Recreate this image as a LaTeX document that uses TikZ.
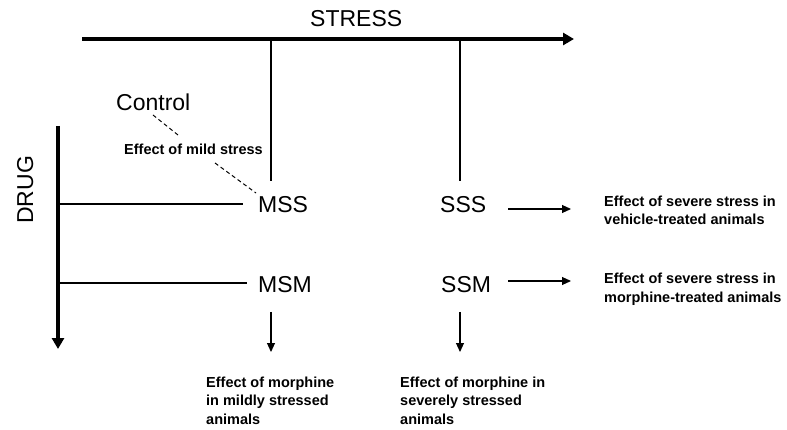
\documentclass[tikz,border=0pt]{standalone}
\usepackage{fontspec}
\setmainfont{Liberation Sans}
\usetikzlibrary{arrows.meta}
\begin{document}
\begin{tikzpicture}[x=1pt,y=-1pt,
  big/.style={font=\fontsize{23}{27}\selectfont, inner sep=0pt},
  note/.style={font=\bfseries\fontsize{14.5}{18.3}\selectfont, inner sep=0pt, align=left},
  axis/.style={line width=4pt, -{Triangle[length=11pt,width=12pt]}},
  thin/.style={line width=1.1pt},
  arr/.style={line width=1.1pt, -{Triangle[length=9pt,width=8pt]}},
  dashline/.style={line width=1pt, dash pattern=on 4pt off 3pt}]
\useasboundingbox (0,0) rectangle (787,430);
% axes
\coordinate (sa) at (82,39);
\coordinate (sb) at (574,39);
\coordinate (da) at (58,126);
\coordinate (db) at (58,349);
\draw[axis] (sa) -- (sb);
\draw[axis] (da) -- (db);
\node[big, anchor=base west] (stress) at (310,27) {STRESS};
\node[big, anchor=base west, rotate=90] (drug) at (33,224) {DRUG};
% group nodes
\node[big, anchor=base west] (mss) at (258,213) {MSS};
\node[big, anchor=base west] (sss) at (440,213) {SSS};
\node[big, anchor=base west] (msm) at (258,293) {MSM};
\node[big, anchor=base west] (ssm) at (441,293) {SSM};
\node[big, anchor=base west] (control) at (116,111) {Control};
% stress verticals
\coordinate (s1) at (271,39);
\coordinate (s1e) at (271,181);
\coordinate (s2) at (460,39);
\coordinate (s2e) at (460,181);
\draw[thin] (s1) -- (s1e);
\draw[thin] (s2) -- (s2e);
% drug horizontals
\coordinate (d1) at (58,204);
\coordinate (d1e) at (243,204);
\coordinate (d2) at (58,283);
\coordinate (d2e) at (247,283);
\draw[thin] (d1) -- (d1e);
\draw[thin] (d2) -- (d2e);
% mild stress dashed
\node[note, anchor=base west] (mild) at (124,155) {Effect of mild stress};
\coordinate (c1) at (153,115);
\coordinate (c2) at (178,135);
\coordinate (c3) at (215,163);
\coordinate (c4) at (256,193);
\draw[dashline] (c1) -- (c2);
\draw[dashline] (c3) -- (c4);
% right effects (anchor at baseline of last line)
\node[note, anchor=base west] (e1) at (604,225) {Effect of severe stress in\\vehicle-treated animals};
\node[note, anchor=base west] (e2) at (604,302) {Effect of severe stress in\\morphine-treated animals};
\coordinate (r1a) at (508,209);
\coordinate (r1b) at (571,209);
\coordinate (r2a) at (508,281);
\coordinate (r2b) at (571,281);
\draw[arr] (r1a) -- (r1b);
\draw[arr] (r2a) -- (r2b);
% down effects
\coordinate (m1a) at (271,312);
\coordinate (m1b) at (271,352);
\coordinate (m2a) at (460,312);
\coordinate (m2b) at (460,352);
\draw[arr] (m1a) -- (m1b);
\draw[arr] (m2a) -- (m2b);
\node[note, anchor=base west] (e3) at (206,424) {Effect of morphine\\in mildly stressed\\animals};
\node[note, anchor=base west] (e4) at (400,424) {Effect of morphine in\\severely stressed\\animals};
\end{tikzpicture}
\end{document}
